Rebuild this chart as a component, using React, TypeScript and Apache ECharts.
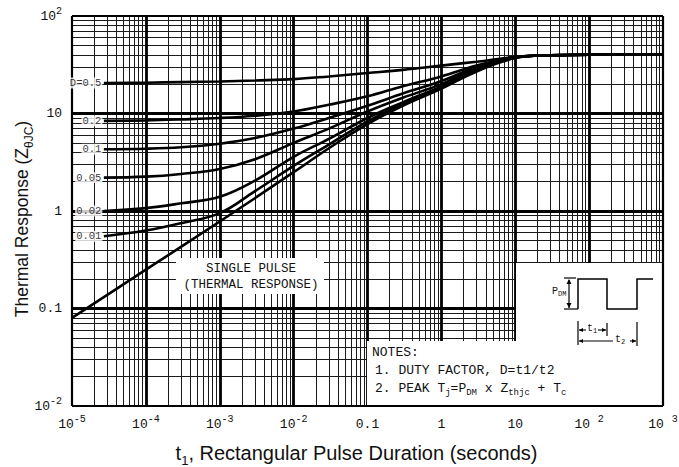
import React, { useEffect, useRef } from "react";
import * as echarts from "echarts";

// ---------------- data ----------------
const dutyT = [2.7e-5, 1e-4, 3e-4, 1e-3, 3e-3, 1e-2, 3e-2, 0.1, 0.3, 1, 3, 10, 30, 100, 1000];
const duty050 = [20.5, 20.7, 21.0, 21.3, 21.8, 22.5, 24, 26, 28, 31, 34, 38, 39.5, 40, 40];
const duty020 = [8.4, 8.5, 8.7, 9.0, 9.5, 10.5, 12.3, 15, 19, 24, 31, 38, 39.5, 40, 40];
const duty010 = [4.3, 4.35, 4.5, 4.9, 5.6, 7.0, 9.0, 12, 16, 21.5, 30, 38, 39.5, 40, 40];
const duty005 = [2.2, 2.25, 2.4, 2.7, 3.4, 5.0, 7.0, 10.5, 14.5, 20, 29, 37.5, 39.5, 40, 40];
const duty002 = [1.0, 1.07, 1.2, 1.4, 2.05, 3.6, 5.5, 9.0, 13, 19, 28, 37.5, 39.5, 40, 40];
const duty001 = [0.55, 0.63, 0.75, 0.95, 1.6, 2.9, 4.8, 8.3, 12.5, 18.5, 27.5, 37.5, 39.5, 40, 40];
const singleT = [1e-5, 1e-4, 1e-3, 1e-2, 3e-2, 0.1, 0.3, 1, 3, 10, 30, 100, 1000];
const singlePulse = [0.08, 0.25, 0.78, 2.5, 4.4, 7.8, 12, 18, 27, 37, 39.5, 40, 40];

const dutyLabels = ["D=0.5", "0.2", "0.1", "0.05", "0.02", "0.01"];
const dutySeries = [duty050, duty020, duty010, duty005, duty002, duty001];

const xTickLabels = ["10{sup|-5}", "10{sup|-4}", "10{sup|-3}", "10{sup|-2}", "0.1", "1", "10", "10 {sup|2}", "10 {sup|3}"];
const yTickLabels = ["10{sup|-2}", "0.1", "1", "10", "10{sup|2}"];
const xDecades = [-5, -4, -3, -2, -1, 0, 1, 2, 3];
const yDecades = [-2, -1, 0, 1, 2];
const gridMultipliers = [2, 3, 4, 5, 6, 7, 8, 9];

const xTitle = "t{sub|1}, Rectangular Pulse Duration (seconds)";
const yTitle = "Thermal Response (Z{sub|θJC})";
const noteLines = [
  "NOTES:",
  "1. DUTY FACTOR, D=t1/t2",
  "2. PEAK T{sub|j}=P{sub|DM} x Z{sub|thjc} + T{sub|c}",
];
const boxLines = ["SINGLE PULSE", "(THERMAL RESPONSE)"];

// ---------------- styling ----------------
const MONO = "'Liberation Mono', 'DejaVu Sans Mono', monospace";
const SANS = "'Liberation Sans', Arial, sans-serif";
const GRID = { left: 72, top: 16, right: 16, bottom: 61 };

function buildOption() {
  const xMajor = xDecades.map((e) => Math.pow(10, e));
  const yMajor = yDecades.map((e) => Math.pow(10, e));
  const xMinor: number[] = [];
  xDecades.slice(0, -1).forEach((e) => gridMultipliers.forEach((m) => xMinor.push(m * Math.pow(10, e))));
  const yMinor: number[] = [];
  yDecades.slice(0, -1).forEach((e) => gridMultipliers.forEach((m) => yMinor.push(m * Math.pow(10, e))));

  const mlBase = {
    silent: true,
    symbol: ["none", "none"],
    precision: 12,
    label: { show: false },
    emphasis: { disabled: true },
    animation: false,
  };

  const minorStyle = { color: "#1a1a1a", width: 1, type: "solid" };
  const majorStyle = { color: "#000", width: 2.8, type: "solid" };

  const gridSeries = {
    type: "line",
    name: "grid",
    data: [[1, 1]],
    symbol: "none",
    lineStyle: { width: 0 },
    silent: true,
    markLine: {
      ...mlBase,
      z: 1,
      data: [
        ...xMinor.map((v) => ({ xAxis: v, lineStyle: minorStyle })),
        ...yMinor.map((v) => ({ yAxis: v, lineStyle: minorStyle })),
        ...xMajor.slice(1, -1).map((v) => ({ xAxis: v, lineStyle: majorStyle })),
        ...yMajor.slice(1, -1).map((v) => ({ yAxis: v, lineStyle: majorStyle })),
      ],
    },
  };

  const frameStyle = { color: "#000", width: 2.2, type: "solid" };
  const frameSeries = {
    type: "line",
    name: "frame",
    data: [[1, 1]],
    symbol: "none",
    lineStyle: { width: 0 },
    silent: true,
    markLine: {
      ...mlBase,
      z: 7,
      data: [
        { xAxis: xMajor[0], lineStyle: frameStyle },
        { xAxis: xMajor[xMajor.length - 1], lineStyle: frameStyle },
        { yAxis: yMajor[0], lineStyle: frameStyle },
        { yAxis: yMajor[yMajor.length - 1], lineStyle: frameStyle },
      ],
    },
  };

  const curve = (name: string, ts: number[], zs: number[]) => ({
    type: "line",
    name,
    z: 5,
    smooth: 0.4,
    symbol: "none",
    silent: true,
    lineStyle: { color: "#000", width: 2.6 },
    data: ts.map((t, i) => [t, zs[i]]),
  });

  const curves = [
    ...dutySeries.map((zs, i) => curve(dutyLabels[i], dutyT, zs)),
    curve("Single Pulse", singleT, singlePulse),
  ];

  const labelSeries = {
    type: "scatter",
    name: "labels",
    z: 8,
    silent: true,
    symbolSize: 1,
    itemStyle: { color: "rgba(0,0,0,0)" },
    label: {
      show: true,
      position: "left",
      distance: 1,
      formatter: "{b}",
      fontFamily: MONO,
      fontSize: 10.5,
      color: "#000",
      backgroundColor: "#fff",
      padding: [0, 1],
    },
    data: dutySeries.map((zs, i) => ({ name: dutyLabels[i], value: [dutyT[0], zs[0]] })),
  };

  const tickRich = {
    sup: { fontSize: 10, fontFamily: MONO, verticalAlign: "top", height: 3, color: "#111" },
  };

  const plotRight = 679 - GRID.right;
  const plotBottom = 467 - GRID.bottom;

  const textEl = (text: string, x: number, y: number, size: number, family = MONO, align = "left", extra: any = {}) => ({
    type: "text",
    z: 9,
    silent: true,
    x,
    y,
    rotation: extra.rotation || 0,
    style: {
      text,
      fill: "#111",
      fontFamily: family,
      fontSize: size,
      align,
      verticalAlign: extra.verticalAlign || "top",
      rich: {
        sub: { fontSize: Math.round(size * 0.68), fontFamily: family, verticalAlign: "bottom", height: 5, fill: "#111" },
      },
    },
  });

  const ln = (x1: number, y1: number, x2: number, y2: number, w = 1.3) => ({
    type: "line",
    z: 9,
    silent: true,
    shape: { x1, y1, x2, y2 },
    style: { stroke: "#000", lineWidth: w },
  });
  const tri = (pts: number[][]) => ({
    type: "polygon",
    z: 9,
    silent: true,
    shape: { points: pts },
    style: { fill: "#000" },
  });

  const graphic = [
    // white boxes
    { type: "rect", z: 3, silent: true, shape: { x: 516, y: 263, width: plotRight - 516, height: plotBottom - 263 }, style: { fill: "#fff" } },
    { type: "rect", z: 3, silent: true, shape: { x: 367, y: 341, width: plotRight - 367, height: plotBottom - 341 }, style: { fill: "#fff" } },
    { type: "rect", z: 3, silent: true, shape: { x: 176, y: 258, width: 148, height: 36 }, style: { fill: "#fff" } },
    // single pulse box text
    textEl(boxLines[0], 251, 262, 12.5, MONO, "center"),
    textEl(boxLines[1], 251, 278, 12.5, MONO, "center"),
    // notes
    textEl(noteLines[0], 372, 346, 13),
    textEl(noteLines[1], 375, 364, 13),
    textEl(noteLines[2], 375, 382, 13),
    // pulse waveform
    {
      type: "polyline",
      z: 9,
      silent: true,
      shape: { points: [[578, 309], [578, 279], [607, 279], [607, 309], [637, 309], [637, 279], [653, 279]] },
      style: { stroke: "#000", lineWidth: 1.5, fill: null },
    },
    // PDM dimension
    ln(569, 280, 569, 308, 1.2),
    ln(564, 278, 576, 278, 1.2),
    ln(564, 309, 578, 309, 1.2),
    tri([[569, 279], [566.5, 284], [571.5, 284]]),
    tri([[569, 308], [566.5, 303], [571.5, 303]]),
    textEl("P{sub|DM}", 552, 286, 10),
    // t1 / t2 dimensions
    ln(578, 321, 578, 345, 1.2),
    ln(579, 330, 586, 330, 1.1),
    tri([[579, 330], [583, 328], [583, 332]]),
    ln(598, 330, 606, 330, 1.1),
    tri([[606, 330], [602, 328], [602, 332]]),
    ln(607, 323, 607, 336, 1.2),
    textEl("t{sub|1}", 587, 323, 10),
    ln(579, 341, 613, 341, 1.1),
    tri([[579, 341], [583, 339], [583, 343]]),
    textEl("t{sub|2}", 615, 334, 10),
    ln(630, 341, 636, 341, 1.1),
    tri([[636, 341], [632, 339], [632, 343]]),
    ln(637, 322, 637, 346, 1.2),
    // y-axis title (rotated)
    textEl(yTitle, 22, 219, 17.5, SANS, "center", { rotation: Math.PI / 2, verticalAlign: "middle" }),
  ];

  return {
    animation: false,
    backgroundColor: "#fff",
    grid: { ...GRID, containLabel: false, outerBoundsMode: "none" },
    xAxis: {
      type: "log",
      logBase: 10,
      min: 1e-5,
      max: 1e3,
      splitNumber: 8,
      axisLine: { show: false },
      axisTick: { show: false },
      splitLine: { show: false },
      axisLabel: {
        margin: 12,
        fontFamily: MONO,
        fontSize: 13,
        color: "#111",
        showMinLabel: true,
        showMaxLabel: true,
        formatter: (v: number) => xTickLabels[Math.round(Math.log10(v)) + 5] ?? "",
        rich: tickRich,
      },
      name: xTitle,
      nameLocation: "middle",
      nameGap: 37,
      nameTextStyle: {
        fontFamily: SANS,
        fontSize: 20,
        color: "#111",
        padding: [0, 22, 0, 0],
        rich: { sub: { fontSize: 13, fontFamily: SANS, verticalAlign: "bottom", height: 5, color: "#111" } },
      },
    },
    yAxis: {
      type: "log",
      logBase: 10,
      min: 0.01,
      max: 100,
      splitNumber: 4,
      axisLine: { show: false },
      axisTick: { show: false },
      splitLine: { show: false },
      axisLabel: {
        margin: 10,
        fontFamily: MONO,
        fontSize: 13,
        color: "#111",
        showMinLabel: true,
        showMaxLabel: true,
        formatter: (v: number) => yTickLabels[Math.round(Math.log10(v)) + 2] ?? "",
        rich: tickRich,
      },
    },
    series: [gridSeries, frameSeries, ...curves, labelSeries],
    graphic,
  };
}

export default function App() {
  const ref = useRef<HTMLDivElement>(null);
  useEffect(() => {
    if (!ref.current) return;
    const chart = echarts.init(ref.current, null, { renderer: "svg" });
    chart.setOption(buildOption() as any);
    return () => chart.dispose();
  }, []);
  return (
    <div
      ref={ref}
      style={{ position: "fixed", left: 0, top: 0, width: 679, height: 467, background: "#fff" }}
    />
  );
}
